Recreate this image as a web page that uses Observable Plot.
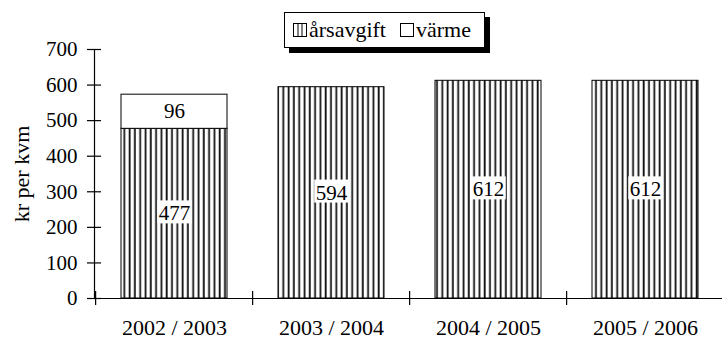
<!DOCTYPE html>
<html>
<head>
<meta charset="utf-8">
<script src="https://cdn.jsdelivr.net/npm/d3@7"></script>
<script src="https://cdn.jsdelivr.net/npm/@observablehq/plot@0.6"></script>
<style>
  html, body { margin: 0; padding: 0; background: #fff; }
  #chart { position: relative; width: 722px; height: 340px; overflow: hidden; }
  #chart svg { font-family: "Liberation Serif", Tinos, "DejaVu Serif", serif; }
  .legend {
    position: absolute; left: 284px; top: 12px; width: 191px; height: 34px;
    border: 1px solid #000; background: #fff; box-shadow: 5px 5px 0 #000;
    font-family: "Liberation Serif", Tinos, "DejaVu Serif", serif; font-size: 22px; color: #000;
    display: flex; align-items: center; padding-left: 8px; box-sizing: content-box;
  }
  .legend .item { display: flex; align-items: center; margin-right: 14px; white-space: nowrap; }
  .legend svg { margin-right: 2px; }
</style>
</head>
<body>
<div id="chart"></div>
<script>
// Yearly cost per square metre, split into annual fee and heating
const periods = ["2002 / 2003", "2003 / 2004", "2004 / 2005", "2005 / 2006"];
const components = ["årsavgift", "värme"];
const arsavgift = [477, 594, 612, 612];
const varme = [96, 0, 0, 0];
const yTicks = [0, 100, 200, 300, 400, 500, 600, 700];
const yAxisTitle = "kr per kvm";

const rows = periods.flatMap((period, i) => [
  {period, component: components[0], value: arsavgift[i]},
  {period, component: components[1], value: varme[i]}
]).filter(d => d.value > 0);

const fontFamily = '"Liberation Serif", Tinos, "DejaVu Serif", serif';
const xRange = [94, 725];
const step = (xRange[1] - xRange[0]) / periods.length;

const plot = Plot.plot({
  width: 722,
  height: 340,
  marginTop: 49,
  marginBottom: 42,
  marginLeft: 94,
  marginRight: 0,
  style: {fontFamily, fontSize: "21px", color: "#000", background: "#fff", overflow: "visible"},
  x: {domain: periods, range: xRange, paddingInner: 0.328, paddingOuter: 0.164},
  y: {domain: [0, 700]},
  color: {domain: components, range: ["url(#stripes)", "#fff"]},
  marks: [
    Plot.barY(rows, Plot.stackY({
      x: "period", y: "value", z: "component", fill: "component", order: components,
      stroke: "#000", strokeWidth: 1
    })),
    Plot.text(rows, Plot.stackY({
      x: "period", y: "value", z: "component", order: components,
      text: d => String(d.value), className: "seg-label"
    })),
    Plot.ruleY([0], {stroke: "#000", strokeWidth: 1.2}),
    Plot.frame({anchor: "left", stroke: "#000", strokeWidth: 1.2}),
    // tick marks that cross the value axis
    Plot.axisY({ticks: yTicks, tickSize: 14, dx: 7, tickFormat: () => "", label: null, strokeWidth: 1.2}),
    Plot.axisY({ticks: yTicks, tickSize: 0, tickPadding: 17, label: null}),
    Plot.axisX({tickSize: 0, tickPadding: 21, label: null, fontSize: 22}),
    // separators between the periods, crossing the baseline
    Plot.ruleX(periods, {x: d => d, y1: -20, y2: 20, dx: -step / 2, stroke: "#000", strokeWidth: 1.2}),
    Plot.text([yAxisTitle], {
      frameAnchor: "left", textAnchor: "middle", rotate: -90, dx: -73, fontSize: 22, text: d => d
    })
  ]
});

// vertical hatching used for the annual fee
const svgNS = "http://www.w3.org/2000/svg";
const defs = document.createElementNS(svgNS, "defs");
defs.innerHTML = `
  <pattern id="stripes" patternUnits="userSpaceOnUse" width="5.3" height="8">
    <rect width="5.3" height="8" fill="#fff"></rect>
    <rect x="1.5" width="1.8" height="8" fill="#111"></rect>
  </pattern>`;
plot.insertBefore(defs, plot.firstChild);

const chart = document.getElementById("chart");
chart.appendChild(plot);

// white boxes behind the segment values
plot.querySelectorAll("g.seg-label text").forEach(t => {
  const b = t.getBBox();
  const r = document.createElementNS(svgNS, "rect");
  r.setAttribute("x", b.x - 1.5);
  r.setAttribute("y", b.y - 1);
  r.setAttribute("width", b.width + 3);
  r.setAttribute("height", b.height - 1);
  r.setAttribute("fill", "#fff");
  if (t.getAttribute("transform")) r.setAttribute("transform", t.getAttribute("transform"));
  t.parentNode.insertBefore(r, t);
});

// legend
const legend = document.createElement("div");
legend.className = "legend";
const swatches = {
  "årsavgift": `<svg width="14" height="14"><rect x="0.5" y="0.5" width="13" height="13" fill="#fff" stroke="#000"/><line x1="5" y1="0.5" x2="5" y2="13.5" stroke="#000"/><line x1="9" y1="0.5" x2="9" y2="13.5" stroke="#000"/></svg>`,
  "värme": `<svg width="14" height="14"><rect x="0.5" y="0.5" width="13" height="13" fill="#fff" stroke="#000"/></svg>`
};
components.forEach(c => {
  const item = document.createElement("span");
  item.className = "item";
  item.innerHTML = swatches[c] + `<span>${c}</span>`;
  legend.appendChild(item);
});
chart.appendChild(legend);
</script>
</body>
</html>
